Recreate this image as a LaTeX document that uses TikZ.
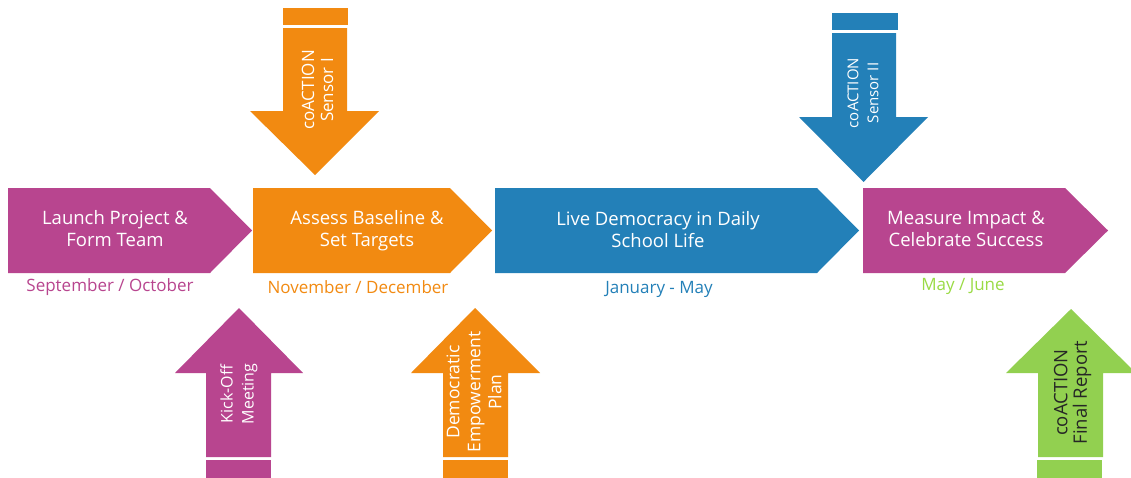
\documentclass[tikz,border=0pt]{standalone}
\usepackage{fontspec}
\setmainfont{Open Sans}
\definecolor{cmag}{HTML}{B8458F}
\definecolor{corg}{HTML}{F28A11}
\definecolor{cblu}{HTML}{2380B8}
\definecolor{cgrn}{HTML}{92D050}
\definecolor{clgrn}{HTML}{9ADB45}
\tikzset{
  maintxt/.style={text=white, align=center, font=\fontsize{18.5}{22}\selectfont, inner sep=0pt},
  vtxt/.style={text=white, align=center, rotate=90, font=\fontsize{17}{19}\selectfont, inner sep=0pt},
  lbl/.style={align=center, font=\fontsize{17}{20}\selectfont, inner sep=0pt},
}
\begin{document}
\begin{tikzpicture}[x=1pt,y=-1pt]
\useasboundingbox[fill=white] (0,0) rectangle (1131,477);
% main arrows
\fill[cmag] (8,188) -- (210,188) -- (252,230.5) -- (210,273) -- (8,273) -- cycle;
\fill[corg] (253,188) -- (450,188) -- (492,230.5) -- (450,273) -- (253,273) -- cycle;
\fill[cblu] (495,188) -- (817,188) -- (859,230.5) -- (817,273) -- (495,273) -- cycle;
\fill[cmag] (863,188) -- (1065,188) -- (1108,230.5) -- (1065,273) -- (863,273) -- cycle;
\node[maintxt] (t1) at (115,229) {Launch Project \&\\Form Team};
\node[maintxt] (t2) at (367,231) {Assess Baseline \&\\Set Targets};
\node[maintxt] (t3) at (658,230) {Live Democracy in Daily\\School Life};
\node[maintxt] (t4) at (966,229) {Measure Impact \&\\Celebrate Success};
% labels
\node[lbl, text=cmag] (l1) at (110,287) {September / October};
\node[lbl, text=corg] (l2) at (358,287) {November / December};
\node[lbl, text=cblu] (l3) at (659,289) {January - May};
\node[lbl, text=clgrn] (l4) at (963,286) {May / June};
% down arrows
\fill[corg] (283,8) rectangle (348,25);
\fill[corg] (283,28) -- (347,28) -- (347,111) -- (379,111) -- (315,175) -- (250,111) -- (283,111) -- cycle;
\node[vtxt] (s1) at (317.5,90) {coACTION\\Sensor I};
\fill[cblu] (832,13) rectangle (898,30);
\fill[cblu] (832,33) -- (896,33) -- (896,117) -- (928,117) -- (863.5,182) -- (799,117) -- (832,117) -- cycle;
\node[vtxt, font=\fontsize{15}{20}\selectfont] (s2) at (863,93) {coACTION\\Sensor II};
% up arrows
\fill[cmag] (239,308) -- (303,373) -- (271,373) -- (271,457) -- (206,457) -- (206,373) -- (175,373) -- cycle;
\fill[cmag] (206,460) rectangle (271,478);
\node[vtxt, font=\fontsize{16}{21}\selectfont] (u1) at (239,394) {Kick-Off\\Meeting};
\fill[corg] (475,308) -- (540,373) -- (508,373) -- (508,457) -- (443,457) -- (443,373) -- (411,373) -- cycle;
\fill[corg] (443,460) rectangle (508,478);
\node[vtxt, font=\fontsize{17.5}{21}\selectfont] (u2) at (474,392) {Democratic\\Empowerment\\Plan};
\fill[cgrn] (1071,309) -- (1136,373) -- (1103,373) -- (1103,457) -- (1038,457) -- (1038,373) -- (1006,373) -- cycle;
\fill[cgrn] (1037,460) rectangle (1102,478);
\node[vtxt, text=black!85, font=\fontsize{18.5}{19.5}\selectfont] (u3) at (1072.5,392.5) {coACTION\\Final Report};
\end{tikzpicture}
\end{document}
